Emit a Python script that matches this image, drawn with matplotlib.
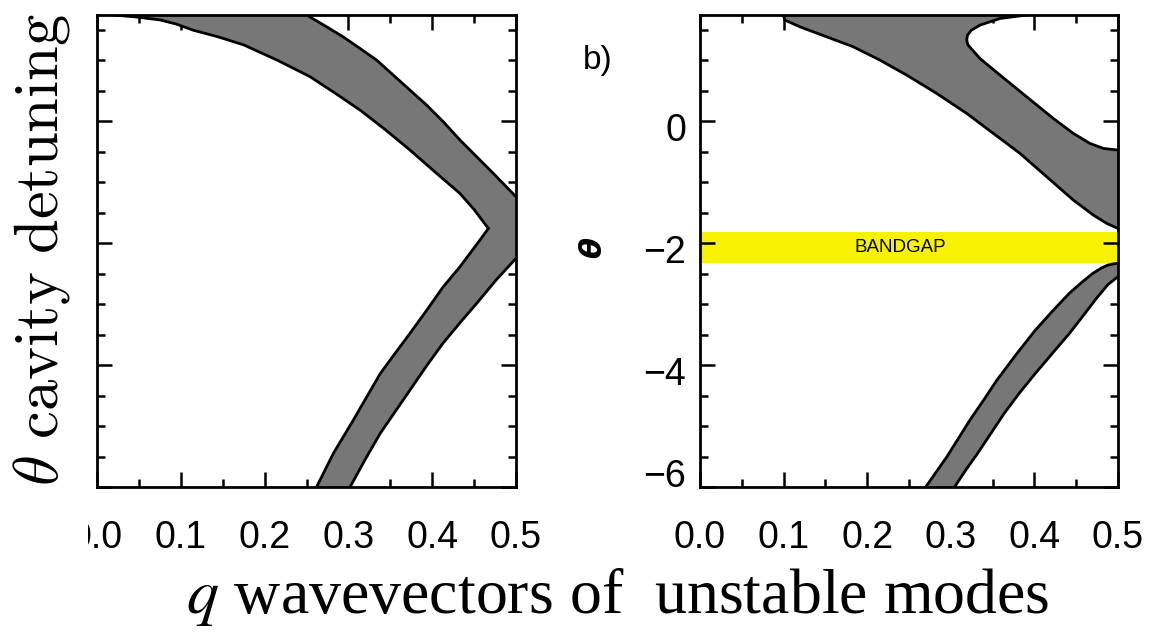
import matplotlib
matplotlib.use("Agg")
import matplotlib.pyplot as plt
import matplotlib.transforms as mtransforms
from matplotlib.patches import Rectangle
import numpy as np

# ---------------- data ----------------
# left panel: upper band
q_left_upper_inner = [0.0195, 0.045, 0.075, 0.095, 0.115, 0.145, 0.175, 0.215, 0.254,
                      0.284, 0.314, 0.344, 0.3735, 0.403, 0.433, 0.450, 0.467]
t_left_upper_inner = [1.74, 1.71, 1.66, 1.59, 1.49, 1.38, 1.25, 1.00, 0.73,
                      0.46, 0.18, -0.14, -0.475, -0.83, -1.185, -1.45, -1.76]
q_left_upper_outer = [0.2502, 0.2741, 0.2939, 0.3138, 0.3337, 0.3536, 0.3735,
                      0.3934, 0.4133, 0.4332, 0.4531, 0.4729, 0.500]
t_left_upper_outer = [1.74, 1.546, 1.38, 1.192, 1.0, 0.754, 0.508,
                      0.262, -0.011, -0.311, -0.585, -0.857, -1.24]
# left panel: lower band
q_left_lower_inner = [0.467, 0.457, 0.433, 0.413, 0.3935, 0.3735, 0.354, 0.338,
                      0.322, 0.306, 0.282, 0.262]
t_left_lower_inner = [-1.76, -1.95, -2.39, -2.72, -3.10, -3.48, -3.84, -4.14,
                      -4.52, -4.90, -5.45, -6.0]
q_left_lower_outer = [0.500, 0.476, 0.453, 0.433, 0.413, 0.393, 0.3735, 0.356,
                      0.338, 0.320, 0.302]
t_left_lower_outer = [-2.25, -2.61, -2.99, -3.31, -3.64, -4.02, -4.41, -4.76,
                      -5.12, -5.55, -6.0]

# right panel: upper band
q_right_upper_lower = [0.0997, 0.1017, 0.1196, 0.1515, 0.1834, 0.2153, 0.2473, 0.2831,
                       0.319, 0.3509, 0.3828, 0.4147, 0.4466, 0.4705, 0.4865, 0.500]
t_right_upper_lower = [1.74, 1.656, 1.546, 1.382, 1.218, 1.0, 0.754, 0.454,
                       0.126, -0.202, -0.530, -0.913, -1.295, -1.541, -1.677, -1.76]
q_right_island = [0.3908, 0.3589, 0.3349, 0.3245, 0.3200, 0.3190, 0.3205, 0.3250,
                  0.3349, 0.3589, 0.3908, 0.4226, 0.4466, 0.4665, 0.4825, 0.500]
t_right_island = [1.74, 1.683, 1.574, 1.490, 1.410, 1.328, 1.250, 1.180,
                  1.027, 0.754, 0.398, 0.044, -0.202, -0.366, -0.448, -0.475]
# right panel: lower band
q_right_lower_upper = [0.270, 0.2955, 0.323, 0.340, 0.355, 0.378, 0.401, 0.422,
                       0.442, 0.457, 0.4696, 0.480, 0.488, 0.495, 0.500]
t_right_lower_upper = [-6.0, -5.50, -4.90, -4.56, -4.25, -3.83, -3.43, -3.11,
                       -2.82, -2.64, -2.50, -2.41, -2.36, -2.34, -2.33]
q_right_lower_lower = [0.3045, 0.318, 0.332, 0.348, 0.364, 0.382, 0.401, 0.422,
                       0.442, 0.459, 0.474, 0.488, 0.500]
t_right_lower_lower = [-6.0, -5.72, -5.45, -5.12, -4.79, -4.46, -4.14, -3.80,
                       -3.48, -3.18, -2.91, -2.68, -2.55]

bandgap = [-2.32, -1.82]
x_ticks = [0.0, 0.1, 0.2, 0.3, 0.4, 0.5]
x_ticklabels = ["0.0", "0.1", "0.2", "0.3", "0.4", "0.5"]
y_ticks = [0, -2, -4, -6]
y_ticklabels = ["0", "\u22122", "\u22124", "\u22126"]
xlim = (0.0, 0.5)
ylim = (-6.0, 1.74)

GREY = "#777777"
YELLOW = "#f7f300"

plt.rcParams["font.family"] = ["Liberation Sans", "DejaVu Sans"]

W, H = 1162, 636
fig = plt.figure(figsize=(W / 100, H / 100), dpi=100)
fig.patch.set_facecolor("white")

def px_axes(x0, x1, y0, y1):
    return [x0 / W, 1 - y1 / H, (x1 - x0) / W, (y1 - y0) / H]

axL = fig.add_axes(px_axes(97, 516, 15, 487))
axR = fig.add_axes(px_axes(700, 1118, 15, 487))


def style(ax, show_ylabels):
    ax.set_xlim(*xlim)
    ax.set_ylim(*ylim)
    ax.set_xticks(x_ticks)
    ax.set_xticklabels(x_ticklabels)
    ax.set_xticks(np.arange(0.0, 0.5001, 0.05), minor=True)
    ax.set_yticks(y_ticks)
    ax.set_yticks(np.arange(-6.0, 1.74, 0.5), minor=True)
    if show_ylabels:
        ax.set_yticklabels(y_ticklabels)
    else:
        ax.set_yticklabels([])
    ax.tick_params(which="both", direction="in", top=True, right=True,
                   width=1.8, color="black")
    ax.tick_params(which="major", length=10.5)
    ax.tick_params(which="minor", length=5.5)
    ax.tick_params(axis="x", which="major", labelsize=27, pad=24)
    ax.tick_params(axis="y", which="major", labelsize=27, pad=10)
    for sp in ax.spines.values():
        sp.set_linewidth(2.0)
        sp.set_zorder(5)


def draw_band(ax, qs, ts):
    ax.fill(qs, ts, color=GREY, lw=0, zorder=2)


LW = 2.0

# ---- left panel ----
style(axL, False)
poly_q = (q_left_upper_outer + q_left_lower_outer
          + q_left_lower_inner[::-1] + q_left_upper_inner[::-1])
poly_t = (t_left_upper_outer + t_left_lower_outer
          + t_left_lower_inner[::-1] + t_left_upper_inner[::-1])
draw_band(axL, poly_q, poly_t)
for qq, tt in [(q_left_upper_inner, t_left_upper_inner),
               (q_left_upper_outer, t_left_upper_outer),
               (q_left_lower_inner, t_left_lower_inner),
               (q_left_lower_outer, t_left_lower_outer)]:
    axL.plot(qq, tt, color="black", lw=LW, zorder=3, solid_joinstyle="round")

# ---- right panel ----
style(axR, True)
axR.axhspan(bandgap[0], bandgap[1], color=YELLOW, lw=0, zorder=1)
draw_band(axR, q_right_upper_lower + q_right_island[::-1],
          t_right_upper_lower + t_right_island[::-1])
draw_band(axR, q_right_lower_upper + q_right_lower_lower[::-1],
          t_right_lower_upper + t_right_lower_lower[::-1])
for qq, tt in [(q_right_upper_lower, t_right_upper_lower),
               (q_right_island, t_right_island),
               (q_right_lower_upper, t_right_lower_upper),
               (q_right_lower_lower, t_right_lower_lower)]:
    axR.plot(qq, tt, color="black", lw=LW, zorder=3, solid_joinstyle="round")
axR.text(0.24, sum(bandgap) / 2, "BANDGAP", ha="center", va="center",
         fontsize=13.5, zorder=4)

# nudge y tick labels like the reference (bottom one raised)
for val, lab in zip(y_ticks, axR.get_yticklabels()):
    dy = 10 / 72 if val == -6 else -4 / 72
    lab.set_transform(lab.get_transform()
                      + mtransforms.ScaledTranslation(0, dy, fig.dpi_scale_trans))

axR.text(593 / W, 1 - 248 / H, "\u03b8", transform=fig.transFigure,
         rotation=90, ha="center", va="center",
         fontsize=22, fontweight="bold", fontstyle="italic",
         family=["DejaVu Sans"])

fig.text(598 / W, 1 - 60 / H, "b)", ha="center", va="center", fontsize=24)

# white strip behind the left title (covers the first tick label as in the reference)
fig.patches.append(Rectangle((0, 0), 88 / W, 1 - 15 / H + 0.01,
                             transform=fig.transFigure, facecolor="white",
                             edgecolor="none", zorder=5))

fig.text(42 / W, 1 - 250 / H, r"$\theta\ \mathrm{cavity\ detuning}$",
         rotation=90, ha="center", va="center", fontsize=45,
         math_fontfamily="cm", zorder=6)

fig.text(618 / W, 23 / H, r"$q$ wavevectors of  unstable modes",
         ha="center", va="baseline", fontsize=46,
         family=["Liberation Serif"], math_fontfamily="stix", zorder=6)

fig.savefig("out.png", dpi=100, facecolor="white")
